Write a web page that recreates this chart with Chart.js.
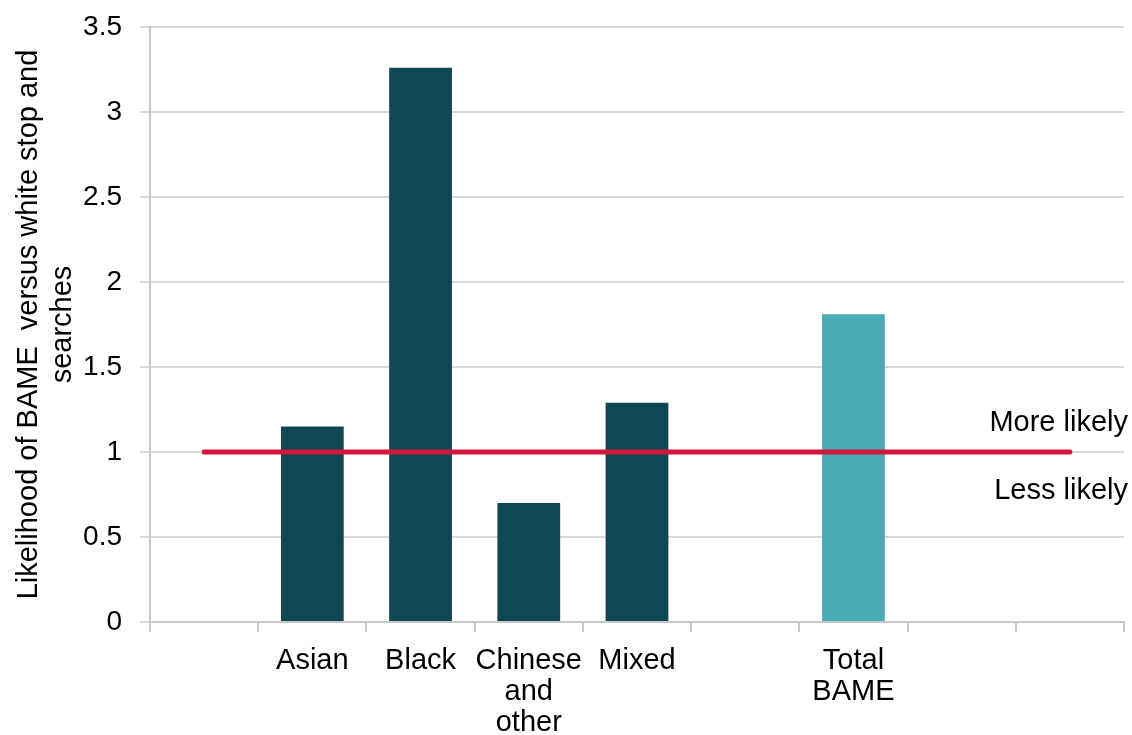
<!DOCTYPE html>
<html>
<head>
<meta charset="utf-8">
<script src="https://cdn.jsdelivr.net/npm/chart.js@4.4.1/dist/chart.umd.min.js"></script>
<style>
  html, body { margin: 0; padding: 0; background: #fff; }
  #wrap { width: 1132px; height: 735px; }
</style>
</head>
<body>
<div id="wrap"><canvas id="likelihoodChart"></canvas></div>
<script>
// categories (blank slots keep the original spacing)
const categories = ['', 'Asian', 'Black', ['Chinese', 'and', 'other'], 'Mixed', '', ['Total', 'BAME'], '', ''];
const likelihood = [null, 1.15, 3.26, 0.70, 1.29, null, 1.81, null, null];
const parityLine = [1, 1, 1, 1, 1, 1, 1, 1, 1];
const barColors = ['#0f4752', '#0f4752', '#0f4752', '#0f4752', '#0f4752', '#0f4752', '#47adb2', '#0f4752', '#0f4752'];
const yTicks = [0, 0.5, 1, 1.5, 2, 2.5, 3, 3.5];
const yTitle = ['Likelihood of BAME  versus white stop and', 'searches'];
const lineNotes = { above: 'More likely', below: 'Less likely' };

const FONT = 'Liberation Sans, Arial, sans-serif';

const notesPlugin = {
    id: 'notes',
    afterDatasetsDraw(chart) {
        const { ctx, chartArea, scales } = chart;
        const y = scales.y.getPixelForValue(1);
        ctx.save();
        ctx.font = '29px ' + FONT;
        ctx.fillStyle = '#000';
        ctx.textAlign = 'right';
        ctx.textBaseline = 'alphabetic';
        ctx.fillText(lineNotes.above, chartArea.right + 4, y - 21);
        ctx.fillText(lineNotes.below, chartArea.right + 4, y + 47);
        ctx.restore();
    }
};

const ctx = document.getElementById('likelihoodChart').getContext('2d');
new Chart(ctx, {
    data: {
        labels: categories,
        datasets: [
            {
                type: 'line',
                label: 'Parity',
                data: parityLine,
                borderColor: '#d2173d',
                borderWidth: 5,
                borderCapStyle: 'round',
                pointRadius: 0,
                fill: false,
                order: 0
            },
            {
                type: 'bar',
                label: 'Likelihood',
                data: likelihood,
                backgroundColor: barColors,
                barPercentage: 0.58,
                categoryPercentage: 1,
                order: 1
            }
        ]
    },
    options: {
        responsive: true,
        maintainAspectRatio: false,
        animation: false,
        layout: { padding: { top: 27, right: 8, left: 0, bottom: 0 } },
        plugins: {
            legend: { display: false },
            tooltip: { enabled: false }
        },
        scales: {
            x: {
                offset: true,
                grid: {
                    offset: true,
                    drawOnChartArea: false,
                    drawTicks: true,
                    tickLength: 10,
                    color: '#c8c8c8',
                    lineWidth: 2
                },
                border: { color: '#c8c8c8', width: 2 },
                ticks: {
                    autoSkip: false,
                    maxRotation: 0,
                    padding: 13,
                    color: '#000',
                    font: { family: FONT, size: 29, lineHeight: 1.07 }
                },
                afterFit(scale) {
                    scale.height = 113;
                    scale.paddingLeft = 0;
                    scale.paddingRight = 0;
                }
            },
            y: {
                min: 0,
                max: 3.5,
                afterBuildTicks(scale) { scale.ticks = yTicks.map(v => ({ value: v })); },
                grid: {
                    color: '#d9d9d9',
                    lineWidth: 2,
                    tickLength: 10
                },
                border: { color: '#c8c8c8', width: 2 },
                ticks: {
                    padding: 18,
                    color: '#000',
                    font: { family: FONT, size: 28 },
                    callback: v => String(v)
                },
                title: {
                    display: true,
                    text: yTitle,
                    color: '#000',
                    padding: { top: 12, bottom: 0 },
                    font: { family: FONT, size: 29, lineHeight: 1.18 }
                },
                afterFit(scale) {
                    scale.width = 150;
                    scale.paddingTop = 0;
                    scale.paddingBottom = 0;
                }
            }
        }
    },
    plugins: [notesPlugin]
});
</script>
</body>
</html>
